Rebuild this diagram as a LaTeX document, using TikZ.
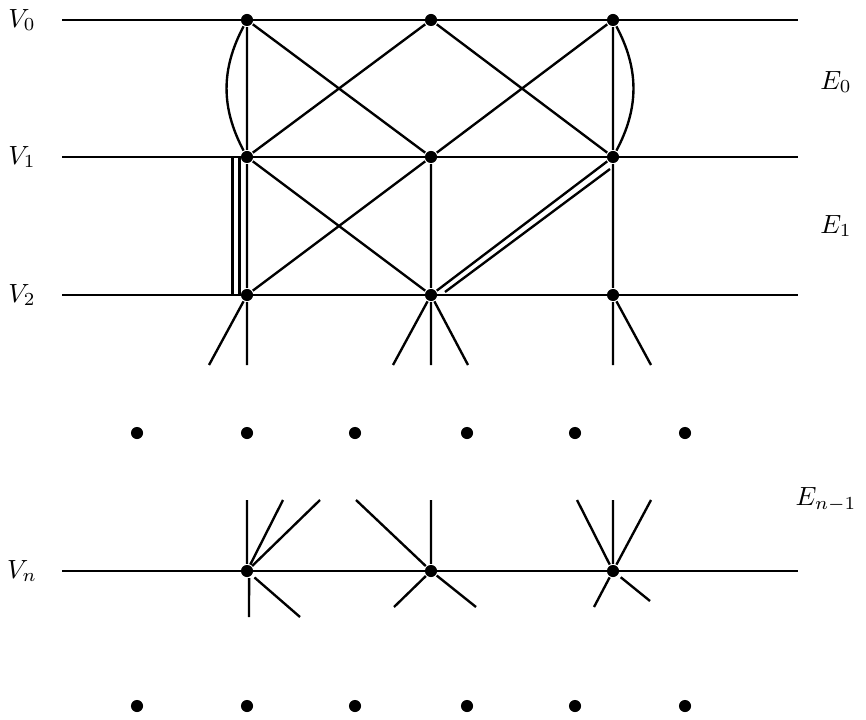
\documentclass[tikz,border=0pt]{standalone}
\usetikzlibrary{calc}
\tikzset{vtx/.style={circle,fill,inner sep=0pt,minimum size=4.6pt}}

\begin{document}
\begin{tikzpicture}[x=0.38pt,y=-0.38pt,line width=0.9pt]
    \useasboundingbox (0,0) rectangle (866,719);
    % levels V_0 ... V_n
    \foreach \r/\y in {0/20,1/157,2/295,n/571} {
        \coordinate (l\r) at (62,\y);
        \coordinate (r\r) at (798,\y);
        \draw (l\r) -- (r\r);
        \node (V\r) at (22,\y) {$V_\r$};
        \foreach \c/\x in {a/247,b/431,c/613}
            \node [vtx] (\c\r) at (\x,\y) {};
    }
    \node (E0) at (836,82) {$E_0$};
    \node (E1) at (836,226) {$E_1$};
    \node (En) at (826,500) {$E_{n-1}$};
    % E_0
    \draw (a0) -- (a1) (c0) -- (c1) (a0) -- (b1) (a1) -- (b0) (b0) -- (c1) (b1) -- (c0);
    \draw (a0) to [bend right=28] (a1);
    \draw (c0) to [bend left=28] (c1);
    % E_1
    \draw (a1) -- (a2) (b1) -- (b2) (c1) -- (c2) (a1) -- (b2) (a2) -- (b1) (b2) -- (c1);
    \coordinate (t1) at (232.5,157); \coordinate (t2) at (232.5,295);
    \coordinate (u1) at (239.5,157); \coordinate (u2) at (239.5,295);
    \draw (t1) -- (t2) (u1) -- (u2);
    \coordinate (s1) at (445,292); \coordinate (s2) at (610,169);
    \draw (s1) -- (s2);
    % loose ends below V_2
    \coordinate (a2sw) at (209,365); \coordinate (a2s) at (247,365);
    \coordinate (b2sw) at (393,365); \coordinate (b2s) at (431,365); \coordinate (b2se) at (468,365);
    \coordinate (c2s) at (613,365); \coordinate (c2se) at (651,365);
    \draw (a2) -- (a2sw) (a2) -- (a2s) (b2) -- (b2sw) (b2) -- (b2s) (b2) -- (b2se) (c2) -- (c2s) (c2) -- (c2se);
    % ellipsis
    \foreach \x in {137,247,355,467,575,685} {
        \node [vtx] (m\x) at (\x,433) {};
        \node [vtx] (z\x) at (\x,706) {};
    }
    % loose ends round V_n
    \coordinate (anN) at (247,500); \coordinate (anNE) at (283,500); \coordinate (anE) at (320,500);
    \coordinate (bnW) at (356,500); \coordinate (bnN) at (431,500);
    \coordinate (cnNW) at (577,500); \coordinate (cnN) at (613,500); \coordinate (cnNE) at (651,500);
    \draw (an) -- (anN) (an) -- (anNE) (an) -- (anE) (bn) -- (bnW) (bn) -- (bnN) (cn) -- (cnNW) (cn) -- (cnN) (cn) -- (cnNE);
    \coordinate (anS) at (249,617); \coordinate (anSE) at (300,617);
    \coordinate (bnSW) at (394,607); \coordinate (bnSE) at (476,607);
    \coordinate (cnSW) at (594,607); \coordinate (cnSE) at (650,601);
    \draw ([xshift=0.8pt]an.south) -- (anS);
    \draw [shorten <=1pt] (an) -- (anSE);
    \draw (bn) -- (bnSW) (cn) -- (cnSW);
    \draw [shorten <=1pt] (bn) -- (bnSE) (cn) -- (cnSE);
\end{tikzpicture}
\end{document}
